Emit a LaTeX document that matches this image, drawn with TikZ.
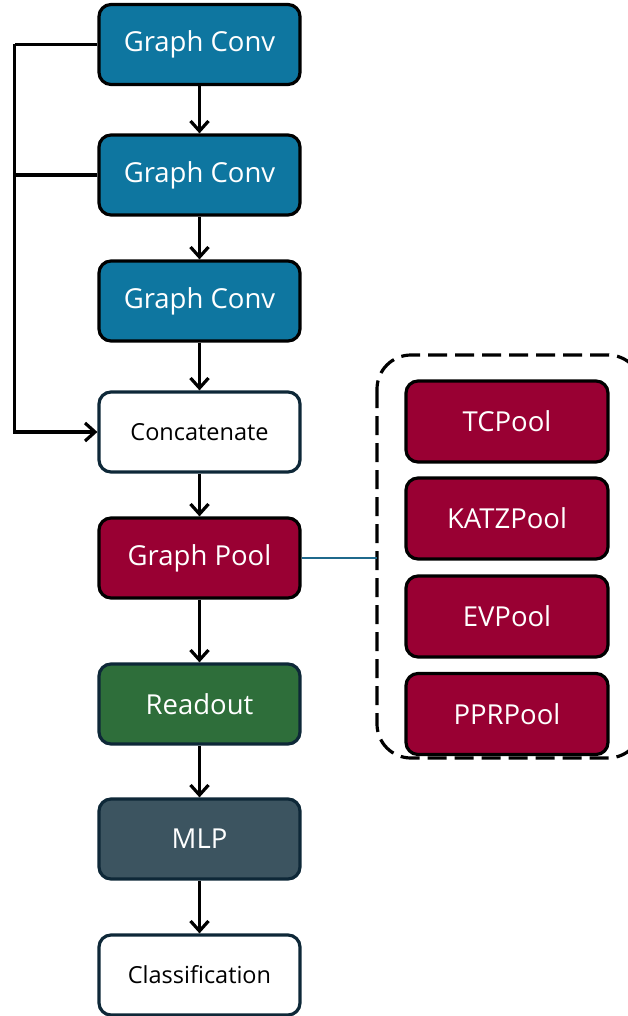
\documentclass[tikz,border=0pt]{standalone}
\usepackage{fontspec}
\setmainfont{Open Sans}
\usetikzlibrary{arrows.meta}

\definecolor{convblue}{RGB}{14,118,160}
\definecolor{poolred}{RGB}{153,0,51}
\definecolor{readgreen}{RGB}{46,110,58}
\definecolor{mlpslate}{RGB}{60,84,96}
\definecolor{navyedge}{RGB}{14,40,56}
\definecolor{linkblue}{RGB}{31,105,140}

\begin{document}
\begin{tikzpicture}[x=1pt,y=-1pt,
  block/.style={rectangle, rounded corners=12pt, minimum width=201pt,
    minimum height=80pt, line width=3.2pt, inner sep=0pt},
  darkblock/.style={block, draw=black, text=white,
    font=\fontsize{27.5}{32}\selectfont},
  softblock/.style={block, draw=navyedge, text=white,
    font=\fontsize{27.5}{32}\selectfont},
  plainblock/.style={block, draw=navyedge, fill=white, text=black,
    font=\fontsize{23.5}{28}\selectfont},
  poolbox/.style={darkblock, fill=poolred, minimum width=202pt, minimum height=81pt},
  flow/.style={line width=3.2pt, -{Straight Barb[length=10pt,width=18pt]}},
  bus/.style={line width=3.2pt},
  group/.style={draw=black, line width=3.2pt, dash pattern=on 19pt off 8pt,
    rounded corners=34pt}
]
\clip (0,0) rectangle (628,1016);
\fill[white] (0,0) rectangle (628,1016);

% main pipeline
\node[darkblock, fill=convblue] (conv1) at (199.5,44.5) {Graph Conv};
\node[darkblock, fill=convblue] (conv2) at (199.5,175) {Graph Conv};
\node[darkblock, fill=convblue] (conv3) at (199.5,301) {Graph Conv};
\node[plainblock] (concat) at (199.5,432) {Concatenate};
\node[darkblock, fill=poolred] (pool) at (199.5,558) {Graph Pool};
\node[softblock, fill=readgreen] (readout) at (199.5,704) {Readout};
\node[softblock, fill=mlpslate] (mlp) at (199.5,839) {MLP};
\node[plainblock] (cls) at (199.5,975) {Classification};

\draw[flow] (conv1) -- (conv2);
\draw[flow] (conv2) -- (conv3);
\draw[flow] (conv3) -- (concat);
\draw[flow] (concat) -- (pool);
\draw[flow] (pool) -- (readout);
\draw[flow] (readout) -- (mlp);
\draw[flow] (mlp) -- (cls);

% skip connections into the concatenation
\coordinate (busTop) at (14.5,44.5);
\coordinate (busMid) at (14.5,175);
\draw[bus] (conv1.west) -- (busTop);
\draw[flow] (busTop) |- (concat.west);
\draw[bus] (conv2.west) -- (busMid);

% pooling variants
\draw[group] (377,355) rectangle (642,758);
\coordinate (groupIn) at (377,557);
\node[poolbox] (tc) at (507,421.5) {TCPool};
\node[poolbox] (katz) at (507,518.5) {KATZPool};
\node[poolbox] (ev) at (507,616.5) {EVPool};
\node[poolbox] (ppr) at (507,714) {PPRPool};
\draw[linkblue, line width=2.8pt] (pool.east) -- (pool.east -| groupIn);
\end{tikzpicture}
\end{document}
